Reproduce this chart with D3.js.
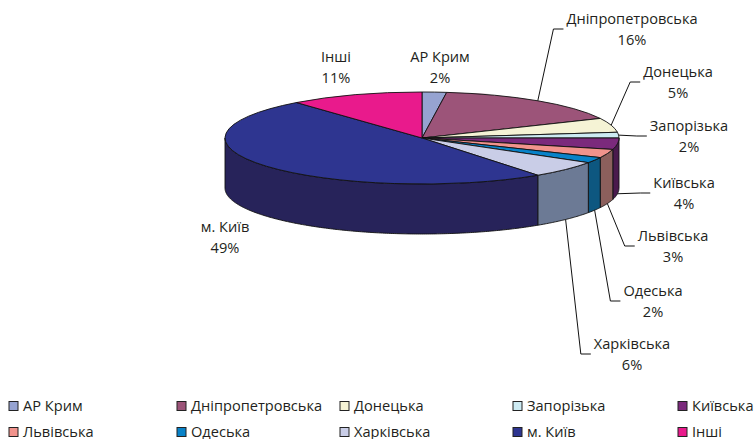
<!DOCTYPE html>
<html lang="uk">
<head>
  <meta charset="UTF-8">
  <title>3D pie</title>
  <script src="https://cdn.jsdelivr.net/npm/d3@7"></script>
  <style>
    body { margin: 0; background: #fff; }
    text { font-family: "Open Sans", sans-serif; font-size: 14.6px; fill: #231f20; }
  </style>
</head>
<body>
  <svg width="755" height="439"></svg>
  <script>
    var categories = ['АР Крим', 'Дніпропетровська', 'Донецька', 'Запорізька', 'Київська',
      'Львівська', 'Одеська', 'Харківська', 'м. Київ', 'Інші'];
    var values = [2, 16, 5, 2, 4, 3, 2, 6, 49, 11];
    var percentLabels = ['2%', '16%', '5%', '2%', '4%', '3%', '2%', '6%', '49%', '11%'];

    // colours of the top faces and of the walls
    var topColors = ['#96a3d1', '#9c5479', '#f5f3d5', '#cdebf3', '#7b2a7c',
      '#f1938c', '#0882c8', '#c9cde7', '#2e3590', '#e91a8c'];
    var sideColors = ['#4e5578', '#5a2e45', '#8f8d74', '#74949c', '#4a1a4d',
      '#8c5f5c', '#0d5780', '#6c7a95', '#27235a', '#8a0f52'];

    // label placement (centre of the two-line text block), hand placed like in the source
    var labelCenters = [[440, 67], [632, 29], [678, 82], [689, 136], [684, 193],
      [673, 246], [653, 301], [632, 354], [225, 237], [336, 67]];
    var hasLeader = [false, true, true, true, true, true, true, true, false, false];

    var svg = d3.select('svg');
    var cx = 422, cy = 138, rx = 197, ry = 46, depth = 50;

    var color = d3.scaleOrdinal().domain(categories).range(topColors);
    var sideColor = d3.scaleOrdinal().domain(categories).range(sideColors);

    var pie = d3.pie().sort(null).value(function(d) { return d.value; });
    var data = categories.map(function(c, i) { return { name: c, value: values[i], pct: percentLabels[i], i: i }; });
    var arcs = pie(data);

    function px(a) { return cx + rx * Math.sin(a); }
    function py(a) { return cy - ry * Math.cos(a); }

    // walls (front half only)
    var line = d3.line();
    var walls = svg.append('g');
    arcs.forEach(function(d) {
      var s = Math.max(d.startAngle, Math.PI / 2);
      var e = Math.min(d.endAngle, Math.PI * 1.5);
      if (e <= s) return;
      var steps = d3.range(s, e, 0.01).concat([e]);
      var pts = steps.map(function(a) { return [px(a), py(a)]; });
      var bottom = steps.slice().reverse().map(function(a) { return [px(a), py(a) + depth]; });
      walls.append('path')
        .attr('d', line(pts.concat(bottom)) + 'Z')
        .attr('fill', sideColor(d.data.name))
        .attr('stroke', '#111')
        .attr('stroke-width', 0.9)
        .attr('stroke-linejoin', 'round');
    });

    // top face: a circular pie squashed into an ellipse
    var arc = d3.arc().innerRadius(0).outerRadius(rx);
    svg.append('g')
      .attr('transform', 'translate(' + cx + ',' + cy + ') scale(1,' + (ry / rx) + ')')
      .selectAll('path')
      .data(arcs)
      .enter().append('path')
      .attr('d', arc)
      .attr('fill', function(d) { return color(d.data.name); })
      .attr('stroke', '#111')
      .attr('stroke-width', 0.9)
      .attr('vector-effect', 'non-scaling-stroke')
      .attr('stroke-linejoin', 'round');

    // labels + leader lines
    var labels = svg.append('g');
    arcs.forEach(function(d) {
      var i = d.data.i;
      var c = labelCenters[i];
      var t = labels.append('text').attr('text-anchor', 'middle');
      t.append('tspan').attr('x', c[0]).attr('y', c[1] - 10.5).attr('dy', '0.35em').text(d.data.name);
      t.append('tspan').attr('x', c[0]).attr('y', c[1] + 10.5).attr('dy', '0.35em').text(d.data.pct);
      if (!hasLeader[i]) return;
      var w = t.node().getBBox().width;
      var mid = (d.startAngle + d.endAngle) / 2;
      var ax = px(mid), ay = py(mid);
      if (mid > Math.PI / 2 && mid < Math.PI * 1.5) ay += depth;
      var endX = c[0] - w / 2 - 3;
      labels.append('path')
        .attr('d', line([[ax, ay], [endX - 10, c[1]], [endX, c[1]]]))
        .attr('fill', 'none')
        .attr('stroke', '#111')
        .attr('stroke-width', 1);
    });

    // legend
    var legendCols = [9, 177, 340, 513, 678];
    var legendRows = [406, 432];
    var legend = svg.append('g');
    data.forEach(function(d, i) {
      var x = legendCols[i % 5], y = legendRows[Math.floor(i / 5)];
      legend.append('rect')
        .attr('x', x).attr('y', y - 4.5)
        .attr('width', 9).attr('height', 9)
        .attr('fill', color(d.name))
        .attr('stroke', '#222')
        .attr('stroke-width', 1);
      legend.append('text')
        .attr('x', x + 14).attr('y', y).attr('dy', '0.35em')
        .text(d.name);
    });
  </script>
</body>
</html>
